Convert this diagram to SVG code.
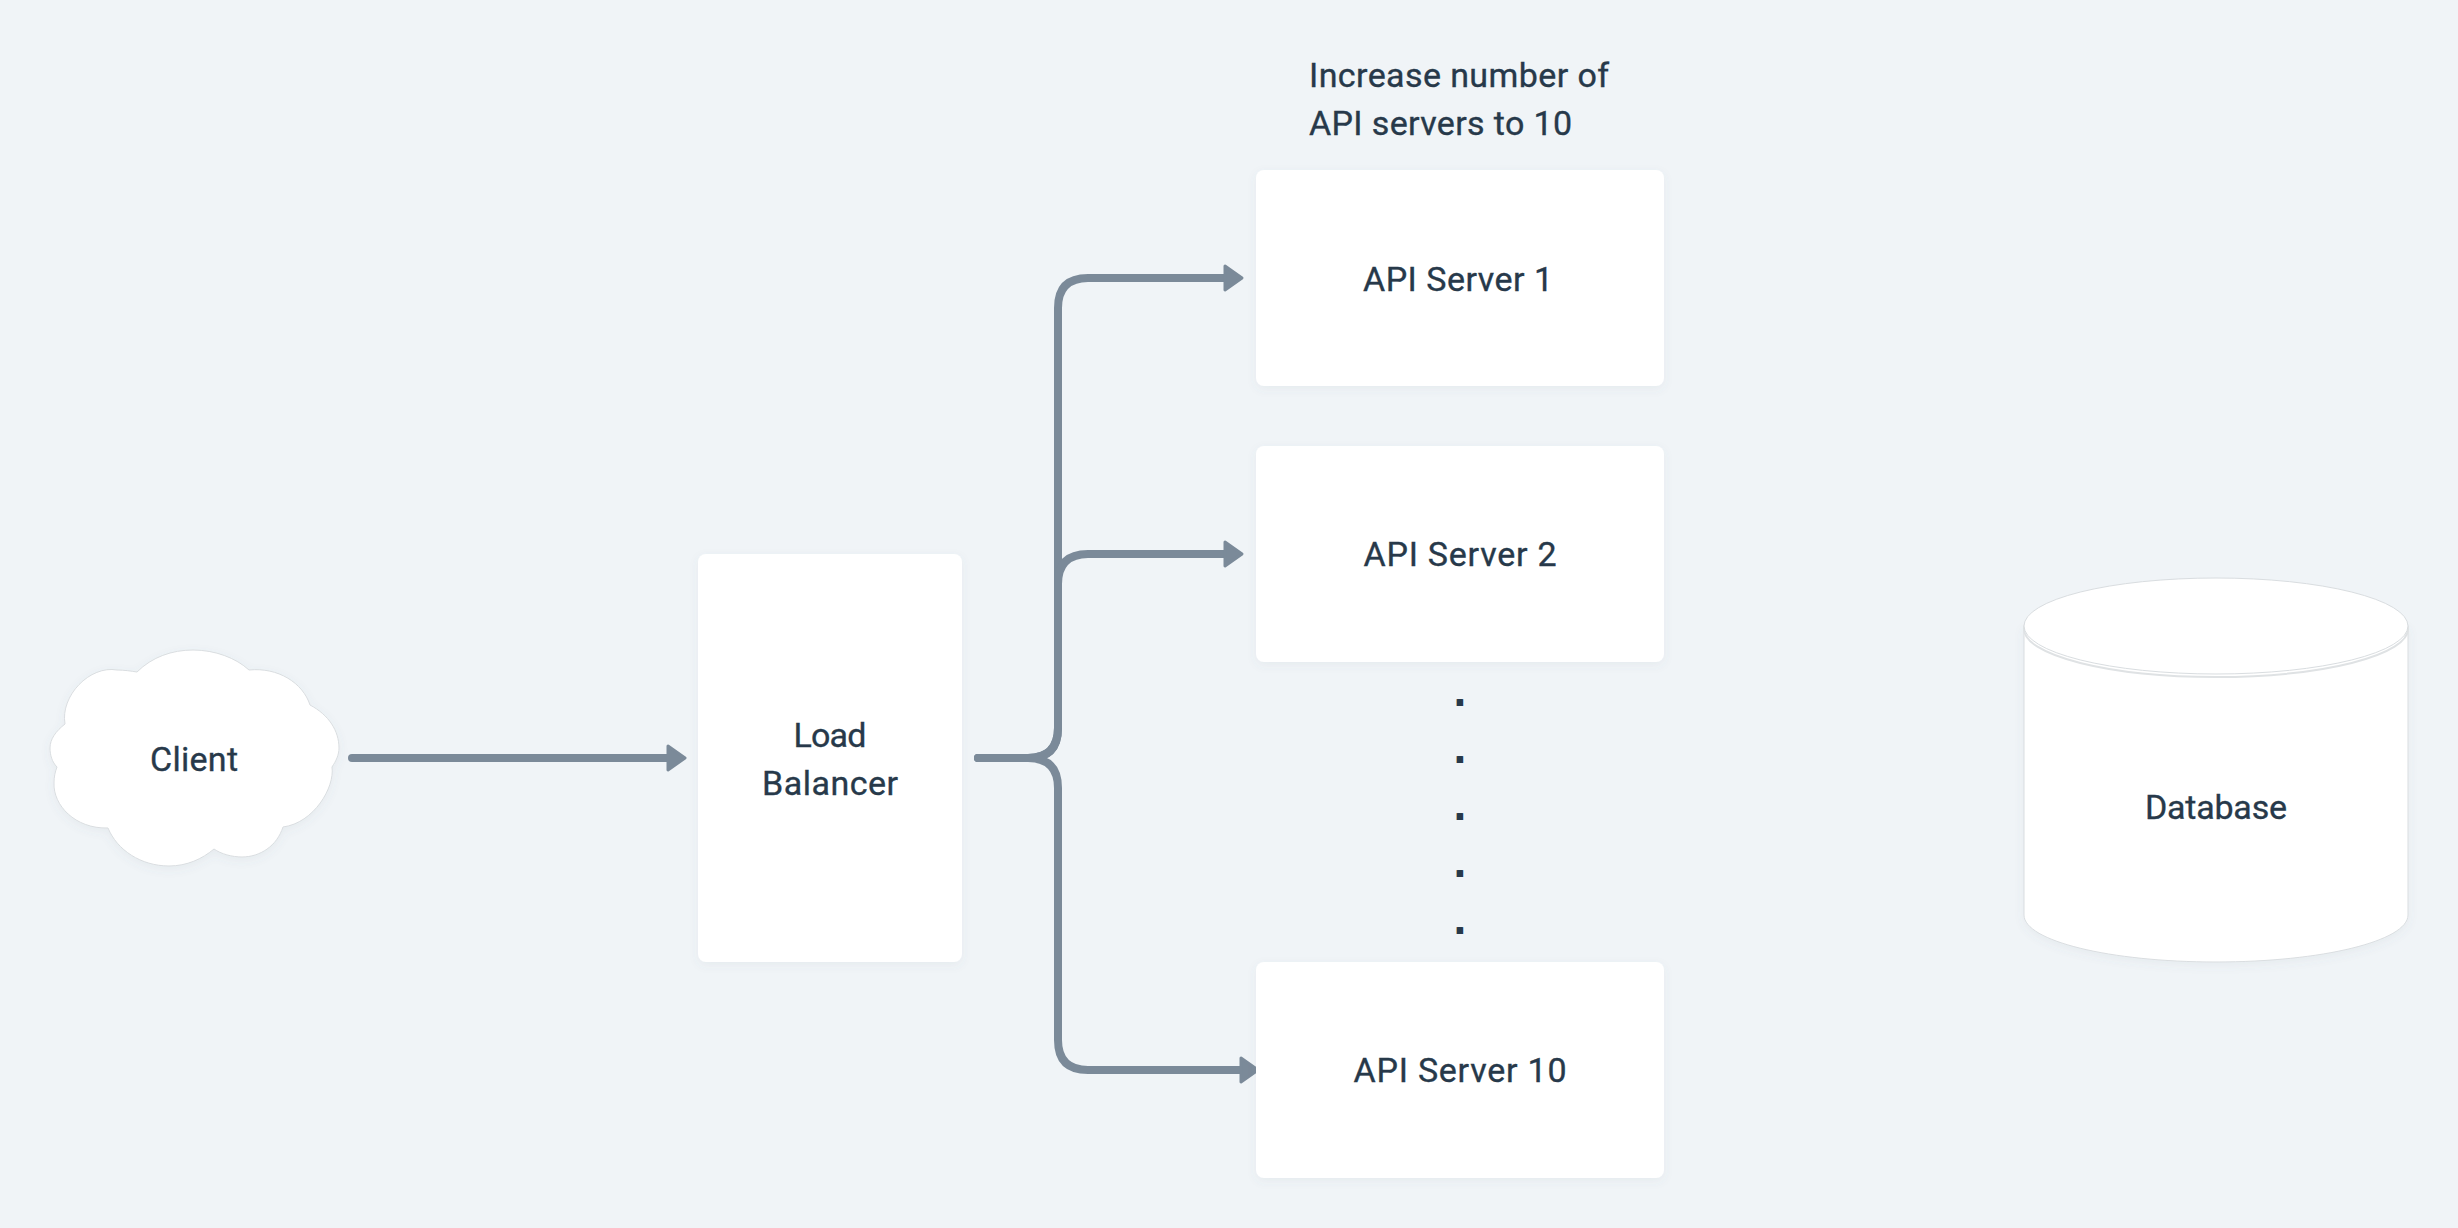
<svg xmlns="http://www.w3.org/2000/svg" width="2458" height="1228" viewBox="0 0 2458 1228">
<style>
.t{font-family:"Roboto","Liberation Sans",sans-serif;font-size:34px;font-weight:400;fill:#27394a;stroke:#27394a;stroke-width:.35}
.m{text-anchor:middle}
.d{font-family:"Liberation Sans",sans-serif;font-size:46px;font-weight:700;fill:#27394a;text-anchor:middle}
.s{fill:#fff;filter:url(#sh)}
.o{fill:#fff;stroke:#d9dde0;stroke-width:1}
.c{fill:none;stroke:#7b8a99;stroke-width:8;stroke-linecap:round;marker-end:url(#a)}
</style>
<defs>
<filter id="sh" x="-10%" y="-10%" width="120%" height="125%"><feDropShadow dx="0" dy="3" stdDeviation="5" flood-color="#5a6a7a" flood-opacity=".07"/></filter>
<marker id="a" markerUnits="userSpaceOnUse" markerWidth="26" markerHeight="36" refX="9" refY="18" orient="auto"><path d="M2 6L19 18L2 30Z" fill="#7b8a99" stroke="#7b8a99" stroke-width="3" stroke-linejoin="round"/></marker>
</defs>
<rect width="2458" height="1228" fill="#f0f4f7"/>
<g id="connectors">
<path class="c" d="M352 758H675"/>
<path class="c" d="M978 758H1028Q1058 758 1058 728V308Q1058 278 1088 278H1232"/>
<path class="c" d="M978 758H1028Q1058 758 1058 728V584Q1058 554 1088 554H1232"/>
<path class="c" d="M978 758H1028Q1058 758 1058 788V1040Q1058 1070 1088 1070H1248"/>
</g>
<g id="client"><path class="s o" d="M137 672C152 657 172 650 193 650C215 650 236 658 249 670C278 667 303 683 310 705C329 715 339 731 339 748C339 755 336 761 332 767C335 787 314 823 283 827C277 846 260 857 242 857C232 857 221 854 214 849C202 859 187 866 169 866C141 866 117 850 108 828C75 829 53 805 54 783C54 777 55 772 57 767C52 762 50 755 50 748C50 739 56 731 65 724C60 696 90 665 117 670C124 670 131 671 137 672Z"/><text class="t m" x="194" y="771" textLength="88">Client</text></g>
<g id="load-balancer"><rect class="s" x="698" y="554" width="264" height="408" rx="8"/><text class="t m" x="830" y="747" textLength="73">Load</text><text class="t m" x="830" y="795" textLength="136">Balancer</text></g>
<g id="note"><text class="t" x="1309" y="87" textLength="300">Increase number of</text><text class="t" x="1309" y="135" textLength="263">API servers to 10</text></g>
<g id="api-server-1"><rect class="s" x="1256" y="170" width="408" height="216" rx="8"/><text class="t m" x="1458" y="291" textLength="190">API Server 1</text></g>
<g id="api-server-2"><rect class="s" x="1256" y="446" width="408" height="216" rx="8"/><text class="t m" x="1460" y="566" textLength="193">API Server 2</text></g>
<g id="dots"><text class="d" x="1460" y="706">.</text><text class="d" x="1460" y="763">.</text><text class="d" x="1460" y="820">.</text><text class="d" x="1460" y="877">.</text><text class="d" x="1460" y="934">.</text></g>
<g id="api-server-10"><rect class="s" x="1256" y="962" width="408" height="216" rx="8"/><text class="t m" x="1460" y="1082" textLength="213">API Server 10</text></g>
<g id="database"><path class="s o" d="M2024 626V915C2024 941 2110 962 2216 962S2408 941 2408 915V626Z"/><ellipse cx="2216" cy="629" rx="192" ry="48" fill="#fff" stroke="#dfe2e4" stroke-width="2"/><ellipse class="o" cx="2216" cy="626" rx="192" ry="48"/><text class="t m" x="2216" y="819" textLength="142">Database</text></g>
</svg>
